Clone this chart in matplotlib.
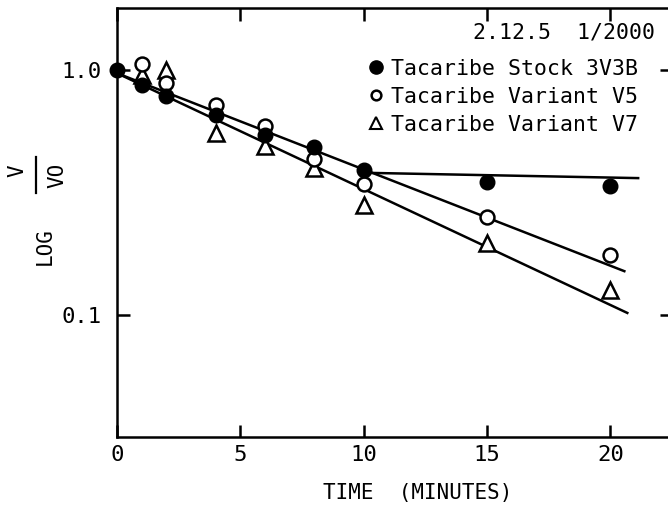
import numpy as np
import matplotlib.pyplot as plt
from matplotlib.lines import Line2D

plt.rcParams['font.family'] = 'DejaVu Sans Mono'

# survival V/V0 against time (minutes)
stock_t = [0, 1, 2, 4, 6, 8, 10, 15, 20]
stock_v = [1.0, 0.87, 0.78, 0.655, 0.545, 0.485, 0.39, 0.35, 0.337]

v5_t = [1, 2, 4, 6, 8, 10, 15, 20]
v5_v = [1.06, 0.885, 0.72, 0.59, 0.433, 0.342, 0.252, 0.176]

v7_t = [1, 2, 4, 6, 8, 10, 15, 20]
v7_v = [0.955, 1.0, 0.553, 0.49, 0.398, 0.281, 0.197, 0.126]

# fitted lines (end points)
fit_upper_t = [0, 20.57]
fit_upper_v = [0.97, 0.151]
fit_lower_t = [0, 20.69]
fit_lower_v = [0.97, 0.102]
plateau_t = [10.36, 21.13]
plateau_v = [0.38, 0.362]

series_labels = ['Tacaribe Stock 3V3B', 'Tacaribe Variant V5', 'Tacaribe Variant V7']


fig = plt.figure(figsize=(6.68, 5.09), dpi=100)
ax = fig.add_axes([0.1751, 0.1415, 0.8308, 0.8428])
ax.set_yscale('log')
ax.set_xlim(0, 22.5)
ax.set_ylim(0.0318, 1.79)

lw = 1.8
ax.plot(fit_upper_t, fit_upper_v, color='black', lw=lw)
ax.plot(fit_lower_t, fit_lower_v, color='black', lw=lw)
ax.plot(plateau_t, plateau_v, color='black', lw=lw)

ax.plot(v7_t, v7_v, ls='none', marker='^', ms=11, mfc='white', mec='black',
        mew=1.8, clip_on=False, zorder=3)
ax.plot(v5_t, v5_v, ls='none', marker='o', ms=10, mfc='white', mec='black',
        mew=1.8, clip_on=False, zorder=4)
ax.plot(stock_t, stock_v, ls='none', marker='o', ms=10.5, mfc='black', mec='black',
        clip_on=False, zorder=5)

for sp in ax.spines.values():
    sp.set_linewidth(1.8)

ax.set_xticks([0, 5, 10, 15, 20])
ax.set_xticklabels(['0', '5', '10', '15', '20'])
ax.set_yticks([0.1, 1.0])
ax.set_yticklabels(['0.1', '1.0'])
ax.yaxis.set_minor_locator(plt.NullLocator())
ax.tick_params(axis='both', which='major', direction='in', length=9, width=1.8,
               top=True, right=True, labelsize=16)
ax.tick_params(axis='x', pad=6)
ax.tick_params(axis='y', pad=11)

fig.text(0.626, 0.031, 'TIME  (MINUTES)', ha='center', va='center', fontsize=15)

# y label: LOG V/VO written sideways
fig.text(45 / 668, 1 - 246 / 509, 'LOG', rotation=90, ha='center', va='center', fontsize=15)
fig.text(17 / 668, 1 - 171 / 509, 'V', rotation=90, ha='center', va='center', fontsize=15)
fig.text(57 / 668, 1 - 175 / 509, 'VO', rotation=90, ha='center', va='center', fontsize=15)
fig.add_artist(Line2D([36 / 668, 36 / 668], [1 - 157 / 509, 1 - 193 / 509],
                      color='black', lw=1.6, transform=fig.transFigure))

fig.text(0.981, 0.937, '2.12.5  1/2000', ha='right', va='center', fontsize=15.5)

handles = [
    Line2D([], [], ls='none', marker='o', ms=9.5, mfc='black', mec='black'),
    Line2D([], [], ls='none', marker='o', ms=7, mfc='white', mec='black', mew=1.8),
    Line2D([], [], ls='none', marker='^', ms=8, mfc='white', mec='black', mew=1.5),
]
ax.legend(handles, series_labels, loc='upper left', bbox_to_anchor=(0.553, 0.885),
          bbox_transform=fig.transFigure, frameon=False, fontsize=15.5,
          handlelength=0.6, handletextpad=0.4, labelspacing=0.38, borderpad=0,
          borderaxespad=0)

fig.savefig('out.png', dpi=100)
